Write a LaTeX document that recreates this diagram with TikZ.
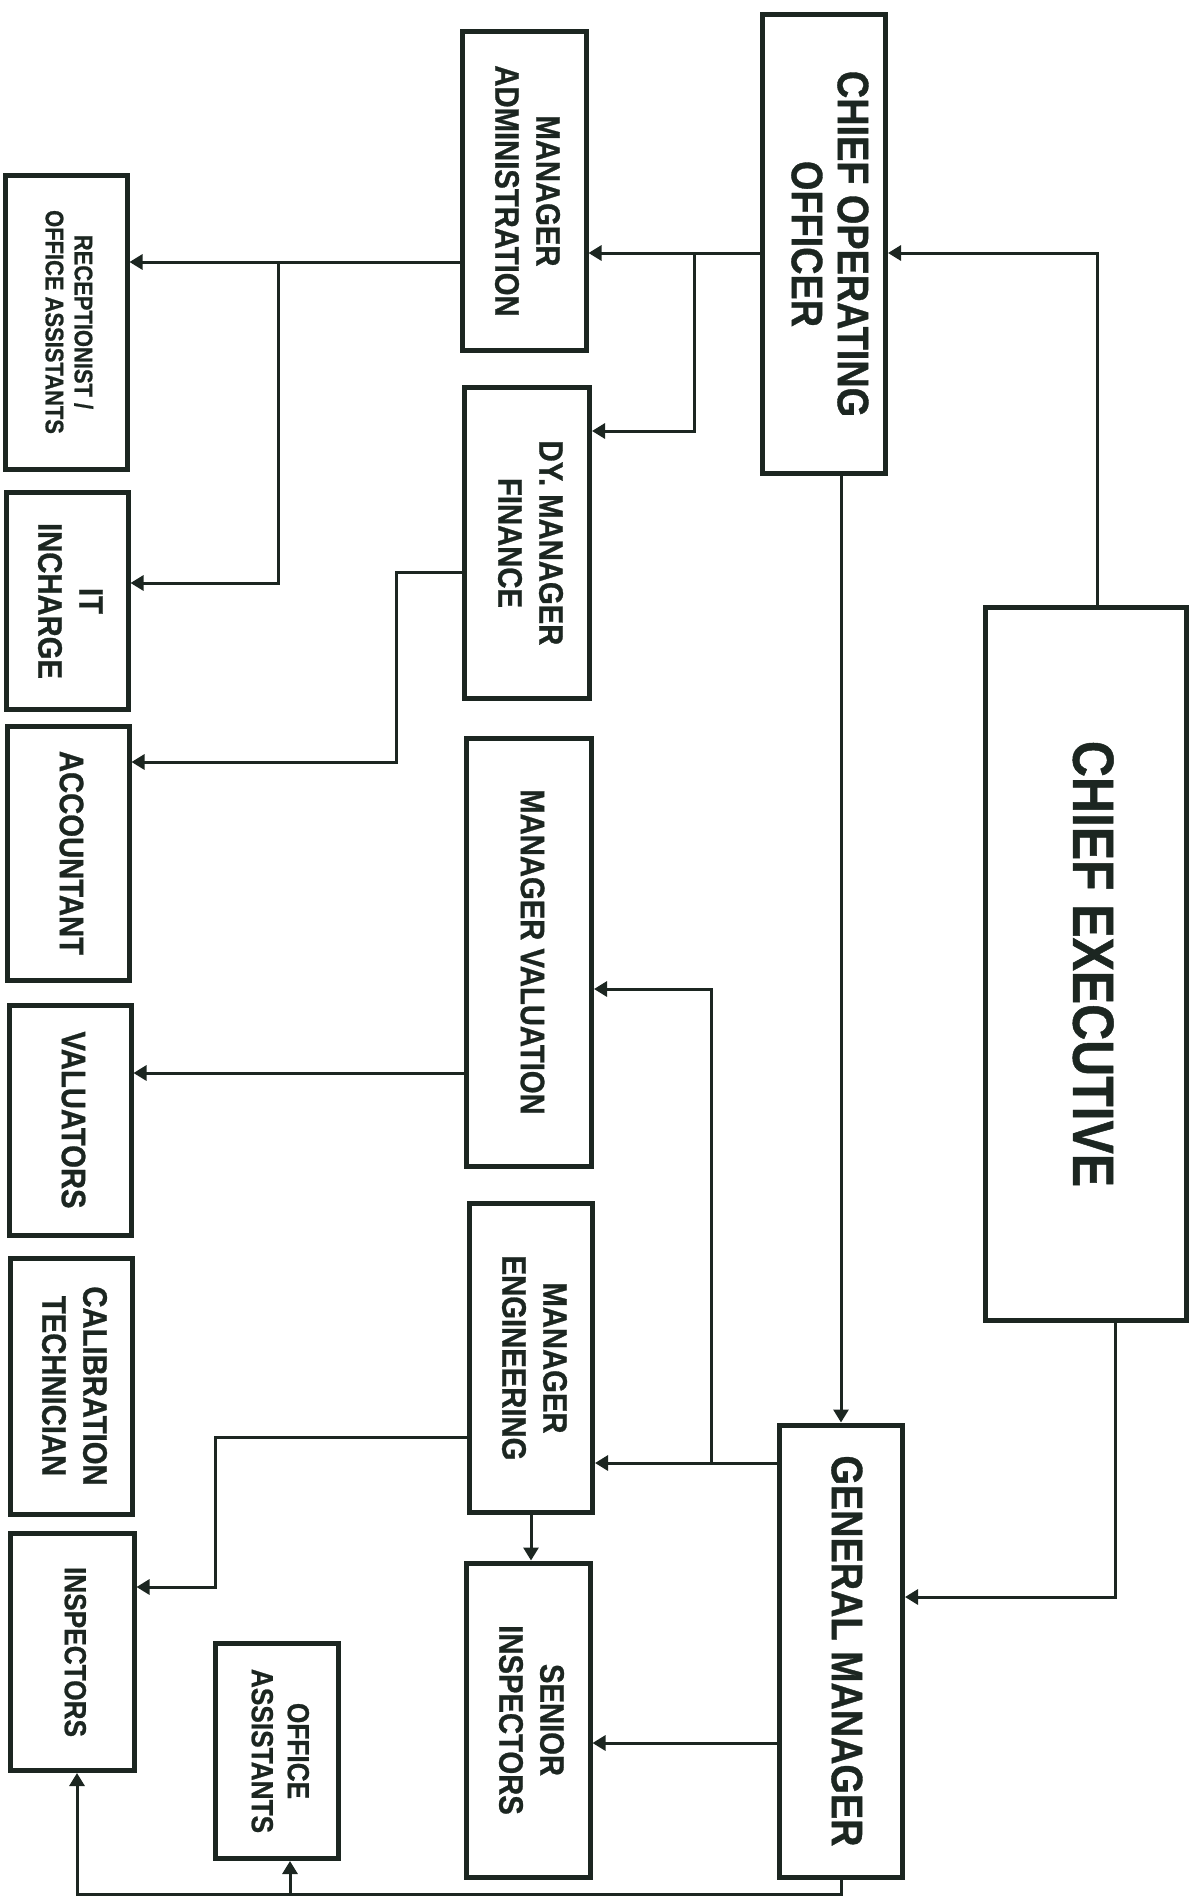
\documentclass[tikz,border=0pt]{standalone}
\usepackage{fontspec}
\setmainfont{Liberation Sans}[FakeStretch=0.86, BoldFeatures={FakeBold=0.8}]
\usepackage{graphicx}
\usetikzlibrary{arrows.meta}
\definecolor{ink}{RGB}{28,38,33}
\newcommand{\vtext}[1]{\rotatebox{-90}{\begin{tabular}{@{}c@{}}#1\end{tabular}}}

\begin{document}
\begin{tikzpicture}[x=1pt, y=-1pt, >={Triangle[length=13pt,width=15pt]}]
  \tikzstyle{box}=[rectangle, draw=ink, line width=5pt, inner sep=0pt, text=ink]
  \tikzstyle{toptext}=[font=\fontsize{58}{64}\selectfont\bfseries]
  \tikzstyle{headtext}=[font=\fontsize{44}{46}\selectfont\bfseries]
  \tikzstyle{mgrtext}=[font=\fontsize{34}{41}\selectfont\bfseries]
  \tikzstyle{stafftext}=[font=\fontsize{30.5}{36}\selectfont\bfseries]
  \tikzstyle{smalltext}=[font=\fontsize{25.5}{29}\selectfont\bfseries]
  \tikzstyle{link}=[draw=ink, line width=3pt]

  \useasboundingbox (0,0) rectangle (1197,1898);

  % Top management
  \node[box, toptext, minimum width=201pt, minimum height=713pt] (ce) at (1086,964) {\vtext{CHIEF EXECUTIVE}};
  \node[box, headtext, minimum width=123pt, minimum height=459pt] (coo) at (824,244) {\vtext{CHIEF OPERATING\\OFFICER}};
  \node[box, headtext, minimum width=123pt, minimum height=452pt] (gm) at (841,1651) {\vtext{GENERAL MANAGER}};

  % Managers
  \node[box, mgrtext, minimum width=124pt, minimum height=319pt] (madm) at (524,191) {\vtext{MANAGER\\ADMINISTRATION}};
  \node[box, mgrtext, minimum width=125pt, minimum height=311pt] (dfin) at (527,543) {\vtext{DY. MANAGER\\FINANCE}};
  \node[box, mgrtext, minimum width=125pt, minimum height=428pt] (mval) at (529,952) {\vtext{MANAGER VALUATION}};
  \node[box, mgrtext, minimum width=123pt, minimum height=309pt] (meng) at (531,1358) {\vtext{MANAGER\\ENGINEERING}};
  \node[box, mgrtext, minimum width=124pt, minimum height=314pt] (sinsp) at (528,1720) {\vtext{SENIOR\\INSPECTORS}};

  % Staff
  \node[box, smalltext, minimum width=122pt, minimum height=294pt] (recep) at (66,322) {\vtext{RECEPTIONIST /\\OFFICE ASSISTANTS}};
  \node[box, mgrtext, minimum width=122pt, minimum height=217pt] (itin) at (67,601) {\vtext{IT\\INCHARGE}};
  \node[box, mgrtext, minimum width=122pt, minimum height=254pt] (acct) at (68,853) {\vtext{ACCOUNTANT}};
  \node[box, mgrtext, minimum width=122pt, minimum height=230pt] (valu) at (70,1120) {\vtext{VALUATORS}};
  \node[box, mgrtext, minimum width=122pt, minimum height=256pt] (caltech) at (71,1386) {\vtext{CALIBRATION\\TECHNICIAN}};
  \node[box, stafftext, minimum width=124pt, minimum height=237pt] (insp) at (72,1652) {\vtext{INSPECTORS}};
  \node[box, stafftext, minimum width=123pt, minimum height=215pt] (offa) at (277,1751) {\vtext{OFFICE\\ASSISTANTS}};

  % Chief executive
  \draw[link, ->] ([xshift=11pt]ce.north) |- ([yshift=-9pt]coo.east);
  \draw[link, ->] ([xshift=29pt]ce.south) |- ([yshift=54pt]gm.east);

  % Chief operating officer
  \draw[link, ->] (coo.south -| gm.north) -- (gm.north);
  \draw[link, ->] ([yshift=-9pt]coo.west) -- ([yshift=-62pt]madm.east);
  \coordinate (jfin) at (694,253);
  \draw[link, ->] (jfin) |- ([yshift=112pt]dfin.east);

  % Administration
  \draw[link, ->] ([yshift=-71pt]madm.west) -- ([yshift=60pt]recep.east);
  \coordinate (jit) at (278,262);
  \draw[link, ->] (jit) |- ([yshift=18pt]itin.east);

  % Finance
  \coordinate (kacc) at (396,762);
  \draw[link, ->] ([yshift=-29pt]dfin.west) -| (kacc) -- (kacc -| acct.east);

  % Valuation
  \draw[link, ->] ([yshift=-121pt]mval.west) -- ([yshift=47pt]valu.east);

  % General manager
  \draw[link, ->] ([yshift=188pt]gm.west) -- ([yshift=-105pt]meng.east);
  \coordinate (jval) at (711,1463);
  \draw[link, ->] (jval) |- ([yshift=-37pt]mval.east);
  \draw[link, ->] ([yshift=-92pt]gm.west) -- ([yshift=-23pt]sinsp.east);

  % Engineering
  \coordinate (kins) at (215,1587);
  \draw[link, ->] ([yshift=-79pt]meng.west) -| (kins) -- (kins -| insp.east);
  \draw[link, ->] (meng.south) -- (meng.south |- sinsp.north);

  % Bottom line
  \coordinate (kbot) at (77,1894);
  \draw[link, ->] (gm.south) |- (kbot) -- (kbot |- insp.south);
  \coordinate (joff) at (290,1894);
  \draw[link, ->] (joff) -- (joff |- offa.south);
\end{tikzpicture}
\end{document}
